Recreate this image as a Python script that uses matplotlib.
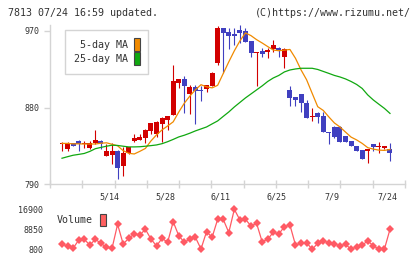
import matplotlib
matplotlib.use("Agg")
import matplotlib.pyplot as plt
from matplotlib.patches import Patch
import matplotlib.transforms as mtransforms

plt.rcParams['font.family'] = ['DejaVu Sans Mono']

# daily prices, 60 trading days (4/26 .. 7/24)
opens = [838, 831.2, 838, 841, 838, 833, 838, 841.3, 823.7, 824.5,
         829.2, 811.9, 826.5, 841.3, 842.4, 844.8, 852.7, 849.5, 861.2, 865.9,
         871.4, 909.3, 913.7, 896.4, 904.3, 901.1, 902.3, 905.8, 932.1, 973.5,
         968.5, 966.8, 971.2, 970, 958.3, 945, 946.5, 945, 948.5, 950,
         939.8, 900.8, 892.2, 896.1, 885.9, 868.7, 873.8, 870.3, 851.5, 857.7,
         857.7, 846.8, 840.9, 835, 830.4, 829.5, 837.4, 833.8, 833, 831.2]
highs = [839.4, 839.4, 838.5, 841.5, 841, 841, 854, 842, 837.4, 838,
         830, 833.5, 834, 849, 849.5, 854.5, 862, 864.4, 868.7, 870.5,
         930.1, 913.5, 917.2, 906.3, 906.3, 905.8, 907, 921.5, 975.9, 974,
         973.9, 973.9, 977, 973.5, 958.5, 945.5, 949.7, 950, 959.4, 951.6,
         950.4, 905.5, 892.5, 896.5, 889, 879.3, 874.6, 875, 851.8, 858,
         858.5, 847, 841, 835, 830.5, 831.8, 837.5, 840.1, 835.2, 838.9]
lows = [829.5, 829.5, 835, 829.5, 833, 832, 837.5, 831, 823, 813.6,
        796.3, 799.8, 826, 840, 842, 838.2, 848.8, 846, 840, 853.8,
        871, 903.5, 874.1, 873, 861.2, 888.2, 898.8, 905.5, 929.7, 920.4,
        949.2, 953.6, 955.6, 957, 939.8, 905.8, 939.8, 938.7, 945.4, 939.8,
        926.9, 882, 882.3, 874.4, 868, 864.7, 862.4, 851.5, 837, 844.7,
        840, 840, 835, 829.5, 819.5, 814.7, 829.5, 827.2, 831.9, 817.8]
closes = [838, 837.4, 835.5, 837.7, 838, 838, 842, 837.7, 829.2, 829.2,
          809.6, 826.5, 833.5, 844.8, 846, 853.8, 861.7, 863.2, 867.6, 870,
          911.3, 913.3, 905.8, 904.6, 899.6, 899.2, 906.6, 921.1, 973.5, 968,
          964.5, 964.5, 968, 957.4, 944.5, 945, 943.4, 947.7, 953.6, 947.7,
          948.9, 891.7, 889.4, 885.9, 868.3, 870.3, 869.4, 851.8, 850, 845,
          840.1, 840.1, 835.4, 829.5, 819.8, 831.5, 834.2, 834.2, 835, 826.5]

ma5 = [838, 838, 837.5, 837.5, 837.3, 837.3, 837.3, 838.2, 838.7, 837,
       835.2, 829.5, 826.4, 825.6, 828.7, 832.1, 840.9, 848, 853.9, 858.5,
       863.3, 874.8, 885.2, 893.6, 901, 906.9, 904.5, 903.2, 906.2, 920,
       933.7, 946.7, 958.3, 967.7, 964.5, 959.8, 955.9, 951.7, 947.6, 946.8,
       947.5, 948.3, 937.9, 924.3, 912.7, 896.8, 881.1, 876.7, 869.1, 862,
       857.3, 851.3, 845.4, 842.1, 838, 833, 831.3, 830.1, 829.8, 830.9]
ma25 = [820.6, 822.4, 824.1, 825.1, 826.2, 828.6, 831.8, 833.3, 834.7, 835.9,
        835.6, 834.7, 833.9, 833.9, 834.1, 834.7, 835.4, 836.2, 837.7, 840,
        842.7, 845.6, 847.6, 850, 852.7, 855, 857.3, 860.9, 864.4, 869.7,
        874.9, 880.8, 886.1, 891.4, 896.1, 900.8, 905.5, 910.7, 914.8, 917.8,
        921.9, 924.2, 925.4, 926.2, 926.2, 926.2, 924.8, 922.5, 920.2, 917.8,
        916, 913.7, 910.7, 907.2, 902.5, 894.9, 889, 884, 879.1, 873.2]

volume = [2700, 2000, 1080, 4420, 4700, 2410, 4700, 3090, 1480, 1080,
          10740, 2810, 5110, 6840, 6440, 8730, 4830, 2010, 5110, 3500,
          11790, 6150, 3500, 4830, 5510, 800, 7760, 5510, 12750, 12750,
          7440, 16780, 12470, 12750, 10060, 11140, 3740, 4700, 7520, 6840,
          9780, 10460, 2410, 3090, 3340, 680, 3090, 4020, 3340, 2810,
          2130, 2690, 680, 1730, 2410, 4020, 2130, 680, 800, 8730]

date_idx = [9, 19, 29, 39, 49, 59]
date_labels = ['5/14', '5/28', '6/11', '6/25', '7/9', '7/24']
price_ticks = [790, 880, 970]
vol_ticks = [800, 8850, 16900]

UP = '#d20000'
DOWN = '#4040c0'
GRID = '#d4d4d4'
TXT = '#333333'

W, H = 420, 259
fig = plt.figure(figsize=(W / 100, H / 100), dpi=100)

def px_axes(x0, y0, x1, y1):
    return fig.add_axes([x0 / W, 1 - y1 / H, (x1 - x0) / W, (y1 - y0) / H])

ax = px_axes(50, 25, 405, 184.3)
axv = px_axes(50, 205, 405, 252)

n = len(closes)
xs = list(range(n))
xlim = (-2.16, 61.7)

# candles
for i in xs:
    o, h, l, c = opens[i], highs[i], lows[i], closes[i]
    col = UP if c >= o else DOWN
    ax.vlines(i, l, h, color=col, linewidth=0.8)
    body = max(abs(c - o), 1.6)
    bot = min(o, c) if abs(c - o) >= 1.6 else (o + c) / 2 - 0.8
    ax.bar(i, body, bottom=bot, width=0.9, color=col, linewidth=0)

ax.plot(xs, ma5, color='#f08a00', linewidth=0.9)
ax.plot(xs, ma25, color='#10a810', linewidth=0.9)

ax.set_xlim(*xlim)
ax.set_ylim(790, 977)
for s in ['top', 'right']:
    ax.spines[s].set_visible(False)
for s in ['left', 'bottom']:
    ax.spines[s].set_color(GRID)
    ax.spines[s].set_linewidth(1)
ax.set_yticks(price_ticks)
ax.set_yticklabels([str(t) for t in price_ticks])
ax.set_xticks([xlim[0] + k * (xlim[1] - xlim[0]) / 11 for k in range(12)])
ax.set_xticklabels([])
ax.tick_params(axis='y', direction='out', length=4.5, width=1, color=GRID,
               labelsize=6, labelcolor=TXT, pad=3)
ax.tick_params(axis='x', direction='inout', length=6, width=1, color=GRID)

trans = mtransforms.blended_transform_factory(ax.transData, ax.transAxes)
for i, lab in zip(date_idx, date_labels):
    ax.text(i - 0.45, -0.078, lab, transform=trans, ha='center', va='center',
            fontsize=6, color=TXT)

# legend: labels right-aligned (monospace), colour boxes on the right
leg = ax.legend(handles=[Patch(facecolor='#f08a00', edgecolor='#444444', linewidth=0.8),
                         Patch(facecolor='#10a810', edgecolor='#444444', linewidth=0.8)],
                labels=[' 5-day MA', '25-day MA'], markerfirst=False,
                loc='upper left', bbox_to_anchor=(65 / W, 1 - 30 / H),
                bbox_transform=fig.transFigure, fontsize=7.2, fancybox=False,
                framealpha=1, edgecolor=GRID, handlelength=0.6, handleheight=1.6,
                handletextpad=0.6, labelspacing=0.1, borderpad=0.85,
                borderaxespad=0)
leg.get_frame().set_linewidth(1)
for t in leg.get_texts():
    t.set_color(TXT)

# volume
axv.plot(xs, volume, color='#ff5a64', linewidth=0.9, marker='D',
         markersize=3.8, markeredgewidth=0)
axv.set_xlim(*xlim)
axv.set_ylim(-407, 18510)
for s in axv.spines.values():
    s.set_visible(False)
axv.set_xticks([])
axv.set_yticks(vol_ticks)
axv.set_yticklabels([str(t) for t in vol_ticks])
axv.tick_params(axis='y', length=0, labelsize=6, labelcolor=TXT, pad=5)
vleg = axv.legend(handles=[Patch(facecolor='#ff6060', edgecolor='#444444', linewidth=0.8)],
                  labels=['Volume'], markerfirst=False, loc='upper left',
                  bbox_to_anchor=(57 / W, 1 - 213.5 / H), bbox_transform=fig.transFigure,
                  fontsize=7.2, frameon=False, handlelength=0.6, handleheight=1.6,
                  handletextpad=0.7, borderpad=0, borderaxespad=0)
for t in vleg.get_texts():
    t.set_color(TXT)

fig.text(8 / W, 1 - 13 / H, '7813 07/24 16:59 updated.', fontsize=7.2,
         color=TXT, ha='left', va='center')
fig.text(411 / W, 1 - 13 / H, '(C)https://www.rizumu.net/', fontsize=7.2,
         color=TXT, ha='right', va='center')

fig.savefig('out.png', dpi=100, facecolor='white')
